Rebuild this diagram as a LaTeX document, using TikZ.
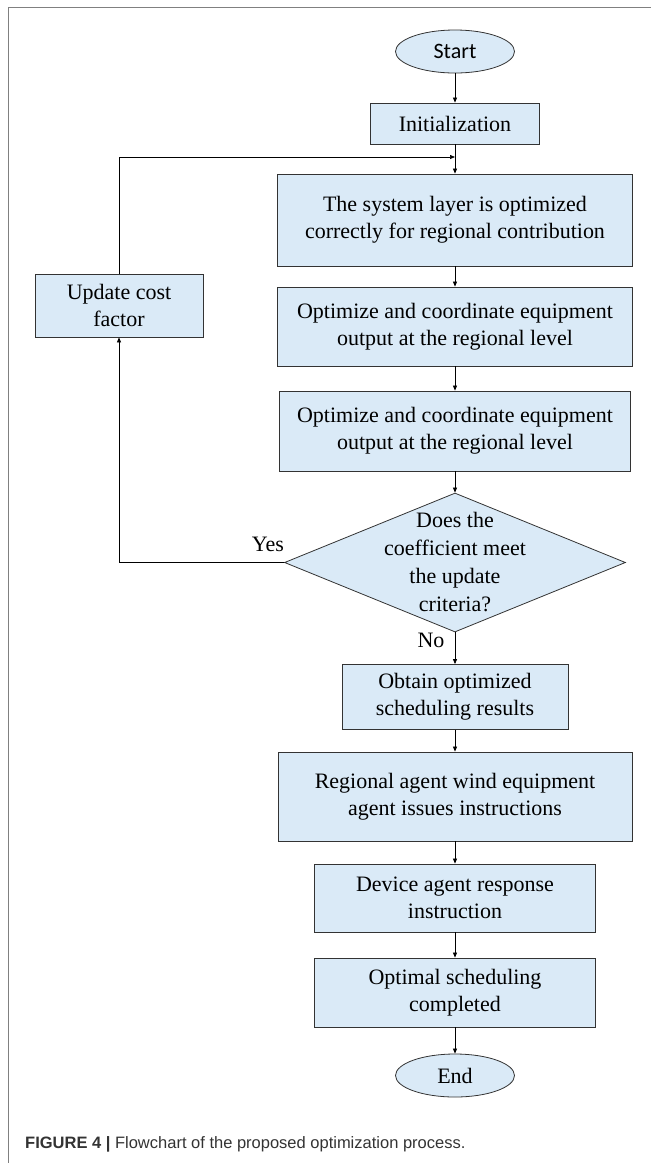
\documentclass[tikz,border=0pt]{standalone}
\usepackage{fontspec}
\setmainfont{Liberation Serif}
\newfontfamily\startfont{Carlito}
\newfontfamily\capfont{Liberation Sans}
\usepackage{tikz}
\usetikzlibrary{shapes.geometric, arrows.meta, positioning}
\definecolor{boxblue}{RGB}{218,234,247}
\definecolor{framegray}{RGB}{128,128,128}

\begin{document}
\begin{tikzpicture}[x=1pt, y=-1pt,
		every node/.style={font=\fontsize{22}{27}\selectfont},
		proc/.style={draw=black!80, fill=boxblue, line width=0.8pt, align=center, inner sep=0pt},
		term/.style={draw=black!80, fill=boxblue, line width=0.8pt, ellipse, minimum width=119pt, minimum height=43pt, inner sep=0pt},
		decide/.style={draw=black!80, fill=boxblue, line width=0.8pt, diamond, minimum width=341pt, minimum height=139pt, inner sep=0pt},
		arr/.style={-{Triangle[length=5pt,width=4pt]}, line width=0.7pt}]
		\useasboundingbox (0,0) rectangle (651,1163);
		
		% 边框
		\draw[framegray, line width=1pt] (8,1163) -- (8,7) -- (651,7);
		
		% 主流程
		\node[term] (start) at (455,51.5) {\startfont Start};
		\node[proc, minimum width=169pt, minimum height=41pt] (init) at (455,123.5) {Initialization};
		\node[proc, minimum width=355pt, minimum height=92pt] (sys) at (455,220) {The system layer is optimized\\correctly for regional contribution};
		\node[proc, minimum width=355pt, minimum height=79pt] (opta) at (455,326.5) {Optimize and coordinate equipment\\output at the regional level};
		\node[proc, minimum width=351pt, minimum height=80pt] (optb) at (455,431) {Optimize and coordinate equipment\\output at the regional level};
		\node[decide] (dec) at (455,562.5) {};
		\node[align=center, font=\fontsize{22}{28}\selectfont] (dectext) at (dec) {Does the\\coefficient meet\\the update\\criteria?};
		\node[proc, minimum width=226pt, minimum height=65pt] (obtain) at (455,697) {Obtain optimized\\scheduling results};
		\node[proc, minimum width=354pt, minimum height=89pt] (regional) at (455,796.5) {Regional agent wind equipment\\agent issues instructions};
		\node[proc, minimum width=281pt, minimum height=68pt] (device) at (455,898) {Device agent response\\instruction};
		\node[proc, minimum width=281pt, minimum height=69pt] (optimal) at (455,992.5) {Optimal scheduling\\completed};
		\node[term] (end) at (455,1075.5) {End};
		
		% 反馈支路
		\node[proc, minimum width=168pt, minimum height=63pt] (update) at (119,305.5) {Update cost\\factor};
		\coordinate (merge) at (455,157);
		
		% 连线
		\draw[arr] (start) -- (init);
		\draw[arr] (init) -- (sys);
		\draw[arr] (sys) -- (opta);
		\draw[arr] (opta) -- (optb);
		\draw[arr] (optb) -- (dec);
		\draw[arr] (dec) -- (obtain);
		\draw[arr] (obtain) -- (regional);
		\draw[arr] (regional) -- (device);
		\draw[arr] (device) -- (optimal);
		\draw[arr] (optimal) -- (end);
		\draw[arr] (dec.west) -| (update.south);
		\draw[arr] (update.north) |- (merge);
		
		% 判断标注
		\node (yes) at (268,544) {Yes};
		\node (no) at (431,640) {No};
		
		% 图题
		\node[anchor=base west, inner sep=0pt, text=black!80, font=\capfont\fontsize{16.5}{20}\selectfont] (cap) at (25,1148) {\textbf{FIGURE 4 |} Flowchart of the proposed optimization process.};
	\end{tikzpicture}
\end{document}
